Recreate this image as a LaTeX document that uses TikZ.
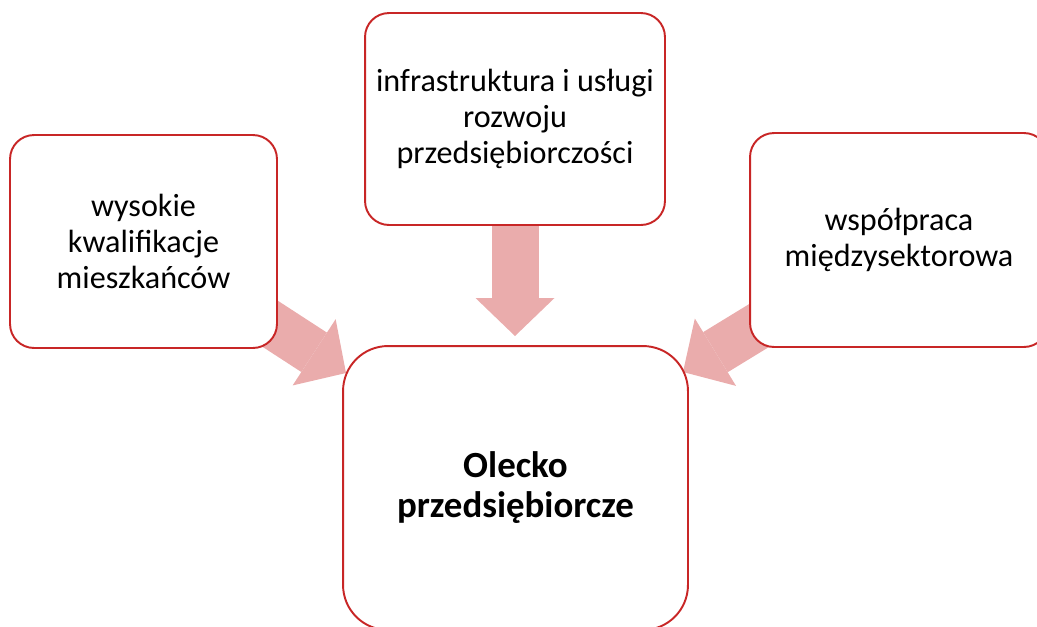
\documentclass[tikz,border=0pt]{standalone}
\usepackage{fontspec}
\setmainfont{Carlito}
\usetikzlibrary{arrows.meta, backgrounds}
\definecolor{boxred}{RGB}{200,38,38}
\definecolor{arrowpink}{RGB}{234,172,172}

\begin{document}
\begin{tikzpicture}[
  x=0.02cm, y=-0.02cm,
  factor/.style = {rectangle, rounded corners=0.48cm, draw=boxred, line width=1.1pt,
                   fill=white, inner sep=0pt, align=center,
                   font=\fontsize{18.3}{20.4}\selectfont},
  goal/.style   = {factor, rounded corners=0.9cm,
                   font=\fontsize{21}{22.8}\selectfont\bfseries},
  push/.style   = {-{Triangle[length=0.76cm, width=1.58cm, line width=0pt]},
                   line width=0.94cm, draw=arrowpink},
]
  \useasboundingbox (0,0) rectangle (1037,626);
  \clip (0,0) rectangle (1037,626);

  \node[factor, minimum width=5.34cm, minimum height=4.26cm] (kwal)  at (143.5,241.5)
    {wysokie\\kwalifikacje\\mieszkańców};
  \node[factor, minimum width=6cm, minimum height=4.24cm]    (infra) at (515,119)
    {infrastruktura i usługi\\rozwoju\\przedsiębiorczości};
  \node[factor, minimum width=5.96cm, minimum height=4.28cm] (wsp)   at (899,240)
    {współpraca\\międzysektorowa};
  \node[goal, minimum width=6.9cm, minimum height=5.68cm]    (olecko) at (515.5,488)
    {Olecko\\przedsiębiorcze};

  \coordinate (tipL) at (346,373);
  \coordinate (tipT) at (515,336);
  \coordinate (tipR) at (683,372);

  \begin{scope}[on background layer]
    \draw[push] (kwal.center)  -- (tipL);
    \draw[push] (infra.center) -- (tipT);
    \draw[push] (wsp.center)   -- (tipR);
  \end{scope}
\end{tikzpicture}
\end{document}
